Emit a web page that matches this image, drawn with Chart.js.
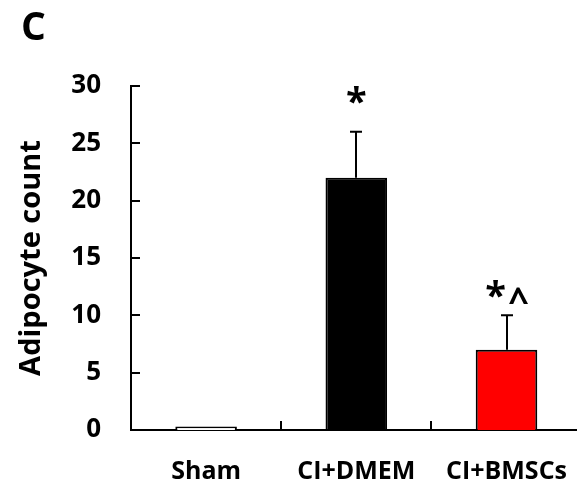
<!DOCTYPE html>
<html>
<head>
<meta charset="utf-8">
<script src="https://cdn.jsdelivr.net/npm/chart.js@4/dist/chart.umd.min.js"></script>
<style>
  html, body { margin: 0; padding: 0; overflow: hidden; background: #fff; }
  #wrap { width: 594px; height: 484px; }
</style>
</head>
<body>
<div id="wrap"><canvas id="myChart" width="594" height="484"></canvas></div>
<script>
let groups = ['Sham', 'CI+DMEM', 'CI+BMSCs'];
let counts = [0.3, 22, 7];
let errors = [0, 4, 3];
let marks = ['', '*', '*^'];
let barColors = ['#ffffff', '#000000', '#ff0000'];
let yTicks = [0, 5, 10, 15, 20, 25, 30];

let fontFam = '"Open Sans", "Liberation Sans", sans-serif';
let markGap = [0, 34, 23];

// error bars, inner tick marks, significance marks and panel letter
let extras = {
  id: 'extras',
  afterDatasetsDraw(chart) {
    let ctx = chart.ctx;
    let x = chart.scales.x;
    let y = chart.scales.y;
    let area = chart.chartArea;
    ctx.save();
    ctx.strokeStyle = '#000';
    ctx.lineWidth = 2;

    // y ticks pointing in
    yTicks.forEach(v => {
      let py = Math.round(y.getPixelForValue(v));
      ctx.beginPath();
      ctx.moveTo(area.left, py);
      ctx.lineTo(area.left + 9, py);
      ctx.stroke();
    });
    // x ticks between categories
    for (let i = 1; i < groups.length; i++) {
      let px = Math.round((x.getPixelForValue(i - 1) + x.getPixelForValue(i)) / 2);
      ctx.beginPath();
      ctx.moveTo(px, area.bottom);
      ctx.lineTo(px, area.bottom - 9);
      ctx.stroke();
    }

    // error bars
    counts.forEach((v, i) => {
      if (!errors[i]) return;
      let px = Math.round(x.getPixelForValue(i));
      let top = y.getPixelForValue(v + errors[i]);
      let base = y.getPixelForValue(v);
      ctx.beginPath();
      ctx.moveTo(px, base);
      ctx.lineTo(px, top);
      ctx.moveTo(px - 6, top);
      ctx.lineTo(px + 6, top);
      ctx.stroke();
    });

    // significance marks
    ctx.fillStyle = '#000';
    ctx.textAlign = 'center';
    ctx.textBaseline = 'middle';
    marks.forEach((m, i) => {
      if (!m) return;
      let px = x.getPixelForValue(i);
      let py = y.getPixelForValue(counts[i] + errors[i]) - markGap[i];
      ctx.font = 'bold 38px ' + fontFam;
      if (m === '*') {
        ctx.fillText('*', px, py + 6);
      } else {
        ctx.fillText('*', px - 11, py + 6);
        ctx.font = 'bold 36px ' + fontFam;
        ctx.fillText('^', px + 12, py + 10);
      }
    });

    // panel letter
    ctx.textAlign = 'left';
    ctx.textBaseline = 'alphabetic';
    ctx.font = 'bold 39px ' + fontFam;
    ctx.fillText('C', 21, 40);
    ctx.restore();
  }
};

let ctx = document.getElementById('myChart').getContext('2d');
let myChart = new Chart(ctx, {
  type: 'bar',
  data: {
    labels: groups,
    datasets: [
      {
        data: counts,
        backgroundColor: barColors,
        borderColor: '#000',
        borderWidth: 2,
        barPercentage: 0.41,
        categoryPercentage: 1,
      },
    ],
  },
  options: {
    responsive: false,
    animation: false,
    layout: { padding: { top: 86, right: 0, left: 14, bottom: 0 } },
    plugins: {
      legend: { display: false },
      tooltip: { enabled: false },
    },
    scales: {
      x: {
        grid: { display: false, drawTicks: false },
        border: { color: '#000', width: 2 },
        ticks: {
          color: '#000',
          padding: 27,
          font: { family: fontFam, size: 25, weight: 'bold' },
        },
        afterFit(scale) { scale.height = 54; },
      },
      y: {
        min: 0,
        max: 30,
        grid: { display: false, drawTicks: false },
        border: { color: '#000', width: 2 },
        ticks: {
          stepSize: 5,
          color: '#000',
          padding: 30,
          font: { family: fontFam, size: 26, weight: 'bold' },
        },
        title: {
          display: true,
          text: 'Adipocyte count',
          color: '#000',
          padding: 0,
          font: { family: fontFam, size: 29, weight: 'bold' },
        },
        afterFit(scale) { scale.width = 117; },
      },
    },
  },
  plugins: [extras],
});
</script>
</body>
</html>
